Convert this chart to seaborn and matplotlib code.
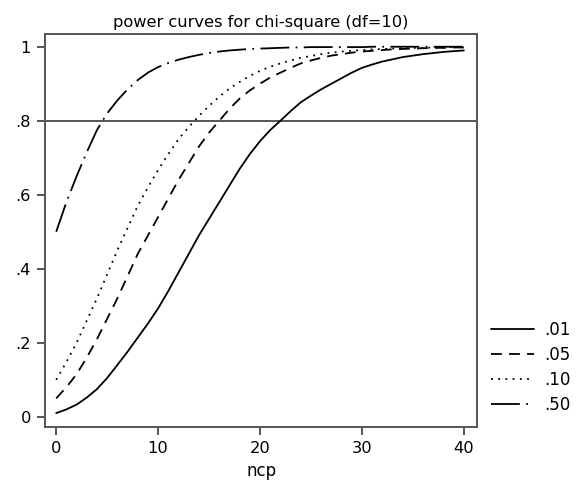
import pandas as pd
import matplotlib
matplotlib.use('Agg')
import matplotlib.pyplot as plt
import seaborn as sns

# values (power vs. noncentrality, df=10)
ncp = list(range(0, 41))
alpha_levels = ['.01', '.05', '.10', '.50']
power_01 = [0.010, 0.020, 0.033, 0.052, 0.075, 0.105, 0.140, 0.176, 0.214, 0.252,
            0.293, 0.340, 0.390, 0.440, 0.490, 0.535, 0.580, 0.625, 0.670, 0.710,
            0.745, 0.775, 0.800, 0.826, 0.850, 0.868, 0.885, 0.900, 0.915, 0.930,
            0.943, 0.952, 0.960, 0.966, 0.972, 0.976, 0.980, 0.983, 0.986, 0.988, 0.990]
power_05 = [0.050, 0.080, 0.115, 0.160, 0.210, 0.265, 0.320, 0.380, 0.440, 0.490,
            0.540, 0.590, 0.640, 0.685, 0.730, 0.768, 0.800, 0.832, 0.860, 0.882,
            0.900, 0.917, 0.930, 0.943, 0.955, 0.963, 0.970, 0.976, 0.980, 0.984,
            0.987, 0.989, 0.991, 0.993, 0.994, 0.995, 0.996, 0.997, 0.997, 0.998, 0.998]
power_10 = [0.100, 0.148, 0.200, 0.260, 0.320, 0.385, 0.450, 0.510, 0.570, 0.620,
            0.667, 0.710, 0.750, 0.783, 0.813, 0.840, 0.865, 0.887, 0.905, 0.921,
            0.935, 0.946, 0.955, 0.963, 0.970, 0.975, 0.980, 0.984, 0.987, 0.989,
            0.991, 0.993, 0.994, 0.995, 0.996, 0.997, 0.997, 0.998, 0.998, 0.999, 0.999]
power_50 = [0.500, 0.580, 0.650, 0.715, 0.775, 0.820, 0.855, 0.885, 0.910, 0.930,
            0.945, 0.956, 0.965, 0.972, 0.978, 0.983, 0.987, 0.990, 0.992, 0.994,
            0.995, 0.996, 0.997, 0.998, 0.998, 0.999, 0.999, 0.999, 0.999, 0.999,
            0.999, 1.000, 1.000, 1.000, 1.000, 1.000, 1.000, 1.000, 1.000, 1.000, 1.000]
yticks = [0, 0.2, 0.4, 0.6, 0.8, 1]
ytick_labels = ['0', '.2', '.4', '.6', '.8', '1']
xticks = [0, 10, 20, 30, 40]

df = pd.DataFrame()
for lvl, vals in zip(alpha_levels, [power_01, power_05, power_10, power_50]):
    _df = pd.DataFrame({'ncp': ncp, 'power': vals})
    _df['alpha'] = lvl
    df = pd.concat([df, _df])

sns.set_style('white')
plt.rcParams['font.family'] = ['DejaVu Sans']
plt.rcParams['text.color'] = 'black'
plt.rcParams['axes.labelcolor'] = 'black'

fig = plt.figure(figsize=(5.88, 4.95), dpi=100)
ax = fig.add_axes([0.0765, 0.137, 0.735, 0.794])

frame_col = '#555555'
ax.axhline(0.8, color=frame_col, lw=1.4, zorder=1)

dashes = {'.01': '', '.05': (6, 4), '.10': (1, 3), '.50': (16, 3.5, 1, 3.5)}
sns.lineplot(data=df, x='ncp', y='power', hue='alpha', style='alpha',
             palette=['black'] * 4, dashes=dashes, lw=1.3, ax=ax, zorder=3)

ax.set_xlim(-1.1, 41.3)
ax.set_ylim(-0.028, 1.034)
ax.set_xticks(xticks)
ax.set_yticks(yticks)
ax.set_yticklabels(ytick_labels)
ax.tick_params(axis='both', which='both', direction='out', length=6, width=1.4,
               color=frame_col, labelcolor='black', labelsize=11.7,
               left=True, bottom=True, pad=4)
for s in ax.spines.values():
    s.set_color(frame_col)
    s.set_linewidth(1.4)

ax.set_xlabel('ncp', size=12)
ax.set_ylabel('')
ax.set_title('power curves for chi-square (df=10)', size=11.7, pad=5)

ax.legend(loc='center left', bbox_to_anchor=(0.823, 0.257), bbox_transform=fig.transFigure,
          frameon=False, fontsize=12, handlelength=2.6, handletextpad=0.6,
          labelspacing=0.42, borderaxespad=0)

fig.savefig('out.png', dpi=100)
